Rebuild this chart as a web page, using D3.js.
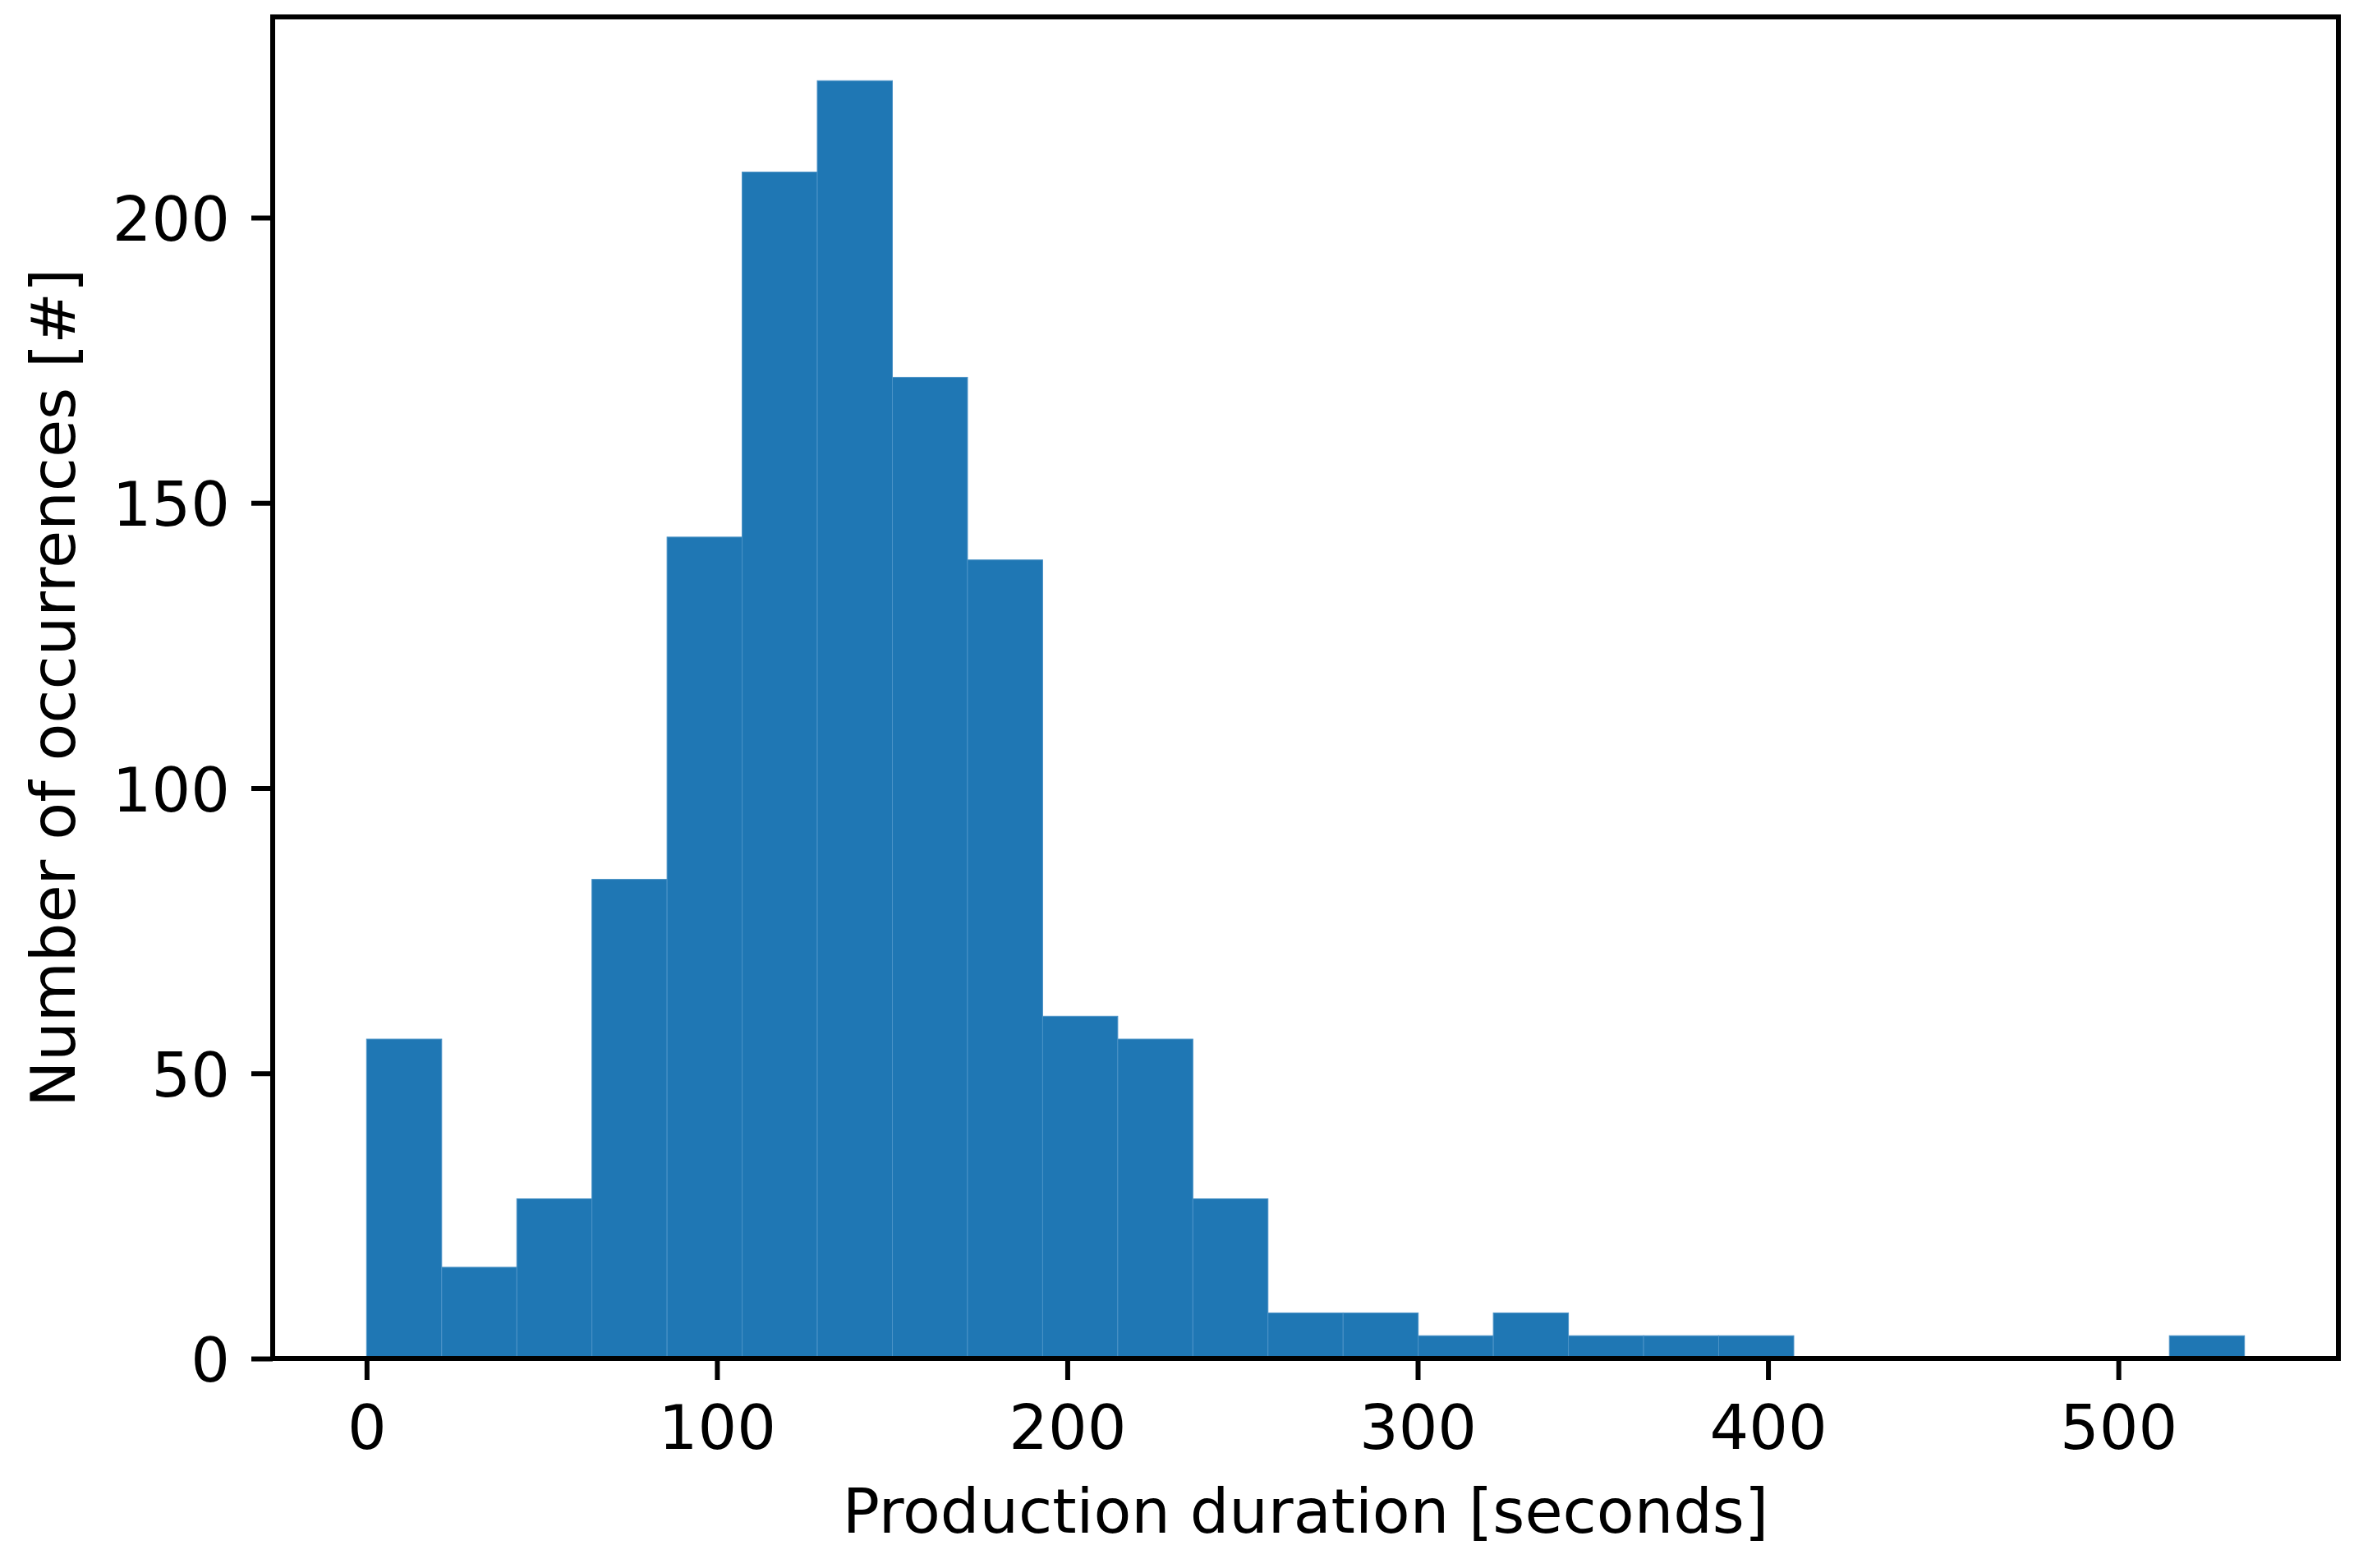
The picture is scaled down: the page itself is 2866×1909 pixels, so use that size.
<!DOCTYPE html>
<html>
<head>
<meta charset="utf-8">
<script src="https://cdn.jsdelivr.net/npm/d3@7"></script>
<style>
  html, body { margin: 0; padding: 0; background: #ffffff; }
  svg { display: block; }
  text { font-family: "DejaVu Sans", sans-serif; fill: #000; }
</style>
</head>
<body>
<script>
// ---- data ----
const binRange = [0, 536];
const counts = [56, 16, 28, 84, 144, 208, 224, 172, 140, 60, 56, 28, 8, 8, 4, 8, 4, 4, 4, 0, 0, 0, 0, 0, 4];
const xTicks = [0, 100, 200, 300, 400, 500];
const yTicks = [0, 50, 100, 150, 200];
const xLabel = "Production duration [seconds]";
const yLabel = "Number of occurrences [#]";

(function () {
  // ---- layout ----
  const W = 2866, H = 1909;
  const mLeft = 332, mRight = 2847, mTop = 20.5, mBottom = 1654;
  const fontSize = 75;

  const nBins = counts.length;
  const binW = (binRange[1] - binRange[0]) / nBins;
  const bins = counts.map((c, i) => ({ x0: binRange[0] + i * binW, x1: binRange[0] + (i + 1) * binW, c }));

  const span = binRange[1] - binRange[0];
  const x = d3.scaleLinear()
    .domain([binRange[0] - 0.05 * span, binRange[1] + 0.05 * span])
    .range([mLeft, mRight]);
  const yMax = d3.max(counts) * 1.05;
  const y = d3.scaleLinear().domain([0, yMax]).range([mBottom, mTop]);

  const svg = d3.select("body").append("svg").attr("width", W).attr("height", H);

  // bars
  svg.append("g").selectAll("rect").data(bins.filter(b => b.c > 0)).join("rect")
    .attr("x", d => x(d.x0))
    .attr("width", d => x(d.x1) - x(d.x0))
    .attr("y", d => y(d.c))
    .attr("height", d => y(0) - y(d.c))
    .attr("fill", "#1f77b4")
    .attr("stroke", "#4a92c6")
    .attr("stroke-width", 1);

  // axes
  const tickLen = 26, tickPad = 26, lw = 6;
  const xAxis = d3.axisBottom(x).tickValues(xTicks).tickSize(tickLen).tickPadding(tickPad).tickFormat(d3.format("d"));
  const yAxis = d3.axisLeft(y).tickValues(yTicks).tickSize(tickLen).tickPadding(tickPad).tickFormat(d3.format("d"));

  const gx = svg.append("g").attr("transform", `translate(0,${mBottom})`).call(xAxis);
  const gy = svg.append("g").attr("transform", `translate(${mLeft},0)`).call(yAxis);

  [gx, gy].forEach(g => {
    g.select(".domain").remove();
    g.selectAll(".tick line").attr("stroke", "#000").attr("stroke-width", lw);
    g.selectAll(".tick text").attr("font-size", fontSize).attr("font-family", "DejaVu Sans").attr("fill", "#000");
  });
  gx.selectAll(".tick text").attr("dy", null).attr("y", 1764 - mBottom);
  gy.selectAll(".tick text").attr("dy", "0.37em").attr("x", -(tickLen + tickPad));

  // spines (frame)
  svg.append("rect")
    .attr("x", mLeft).attr("y", mTop)
    .attr("width", mRight - mLeft).attr("height", mBottom - mTop)
    .attr("fill", "none").attr("stroke", "#000").attr("stroke-width", lw)
    .attr("stroke-linejoin", "miter");

  // labels
  svg.append("text")
    .attr("x", (mLeft + mRight) / 2).attr("y", 1866)
    .attr("text-anchor", "middle").attr("font-size", fontSize)
    .text(xLabel);

  svg.append("text")
    .attr("transform", `translate(91,${(mTop + mBottom) / 2}) rotate(-90)`)
    .attr("text-anchor", "middle").attr("font-size", fontSize)
    .text(yLabel);
})();
</script>
</body>
</html>
